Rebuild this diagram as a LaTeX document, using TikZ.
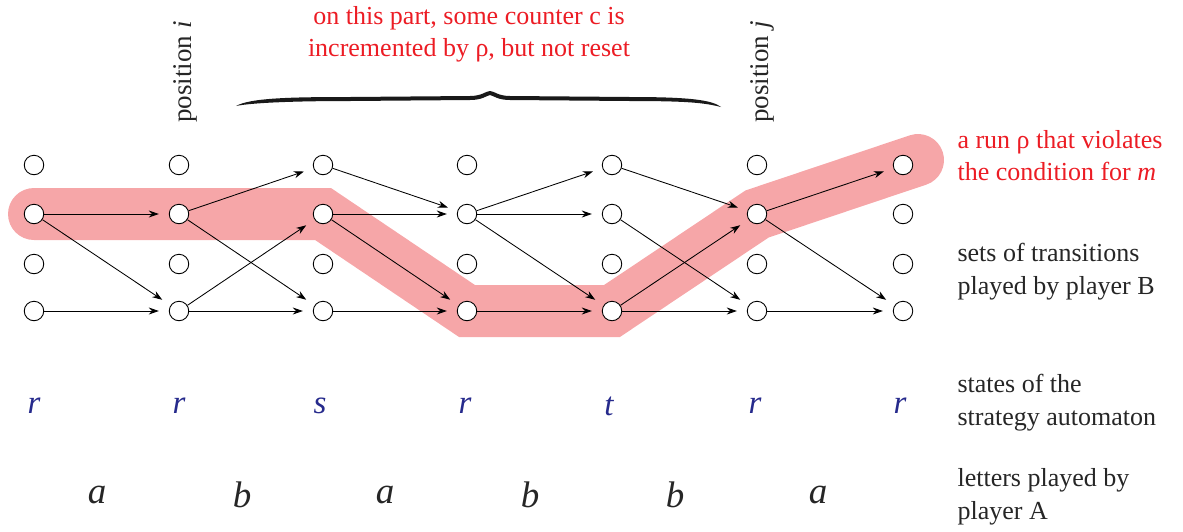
\documentclass[tikz,border=0pt]{standalone}
\usepackage{fontspec}
\setmainfont{Liberation Serif}
\usetikzlibrary{arrows.meta,backgrounds}
\definecolor{runred}{RGB}{246,166,168}
\definecolor{txtred}{RGB}{236,28,36}
\definecolor{stblue}{RGB}{38,42,140}
\begin{document}
\begin{tikzpicture}[x=1pt,y=-1pt,
  st/.style={circle,draw=black,fill=white,line width=0.9pt,minimum size=19.5pt,inner sep=0pt},
  tr/.style={-{Stealth[length=10pt,width=7pt]},line width=0.85pt,shorten >=10pt},
  lab/.style={anchor=west,align=left,font=\fontsize{26}{33}\selectfont,text=black!85},
  redlab/.style={align=left,font=\fontsize{26}{32}\selectfont,text=txtred},
  stlab/.style={font=\fontsize{33}{36}\selectfont\itshape,text=stblue},
  letlab/.style={font=\fontsize{37}{40}\selectfont\itshape,text=black!85},
  poslab/.style={rotate=90,font=\fontsize{27}{30}\selectfont,text=black!85}]
\useasboundingbox (0,0) rectangle (1183,531);
% nodes
\foreach \c/\x in {0/34,1/179,2/323,3/467,4/612,5/757,6/903}{
  \foreach \r/\y in {1/165,2/214,3/264,4/311}{
    \node[st] (n\c\r) at (\x,\y) {};
  }
}
\coordinate (runend) at (918,160);
% run highlight
\begin{scope}[on background layer]
\draw[runred,line width=52pt,line cap=round,line join=miter]
  (n02.center) -- (n22.center) -- (n34.center) -- (n44.center) -- (n52.center) -- (runend);
\end{scope}
% transitions
\draw[tr] (n02) -- (n12);
\draw[tr] (n02) -- (n14);
\draw[tr] (n04) -- (n14);
\draw[tr] (n12) -- (n21);
\draw[tr] (n12) -- (n24);
\draw[tr] (n14) -- (n22);
\draw[tr] (n14) -- (n24);
\draw[tr] (n21) -- (n32);
\draw[tr] (n22) -- (n32);
\draw[tr] (n22) -- (n34);
\draw[tr] (n24) -- (n34);
\draw[tr] (n32) -- (n41);
\draw[tr] (n32) -- (n42);
\draw[tr] (n32) -- (n44);
\draw[tr] (n34) -- (n44);
\draw[tr] (n41) -- (n52);
\draw[tr] (n42) -- (n54);
\draw[tr] (n44) -- (n52);
\draw[tr] (n44) -- (n54);
\draw[tr] (n52) -- (n61);
\draw[tr] (n52) -- (n64);
\draw[tr] (n54) -- (n64);
% position labels
\node[poslab] (posi) at (185,72) {position \textit{i}};
\node[poslab] (posj) at (762,72) {position \textit{j}};
% brace
\fill[black!90] (236,106) .. controls (250,98) and (290,97) .. (350,97) -- (470,96)
  .. controls (482,96) and (486,91) .. (490,91) .. controls (494,91) and (498,96) .. (510,96)
  -- (630,97) .. controls (690,97) and (712,100) .. (721,107)
  .. controls (705,103) and (690,101) .. (630,101) -- (510,100)
  .. controls (498,100) and (494,96) .. (490,95) .. controls (486,96) and (482,100) .. (470,100)
  -- (350,101) .. controls (290,101) and (250,103) .. (236,106) -- cycle;
\node[redlab,align=center] (parttxt) at (469,34) {on this part, some counter c is\\ incremented by ρ, but not reset};
% right labels
\node[redlab,anchor=west] (runtxt) at (954,156) {a run ρ that violates\\ the condition for \textit{m}};
\node[lab] (settxt) at (954,272) {sets of transitions\\ played by player B};
\node[lab] (statetxt) at (954,403) {states of the\\ strategy automaton};
\node[lab] (lettxt) at (954,497) {letters played by\\ player A};
% strategy states
\foreach \x/\s [count=\i] in {34/r,179/r,320/s,465/r,609/t,755/r,900/r}{
  \node[stlab] (q\i) at (\x,406) {\s};
}
% letters
\foreach \x/\s [count=\i] in {97/a,242/b,385/a,530/b,675/b,818/a}{
  \node[letlab] (l\i) at (\x,495) {\s};
}
\end{tikzpicture}
\end{document}
